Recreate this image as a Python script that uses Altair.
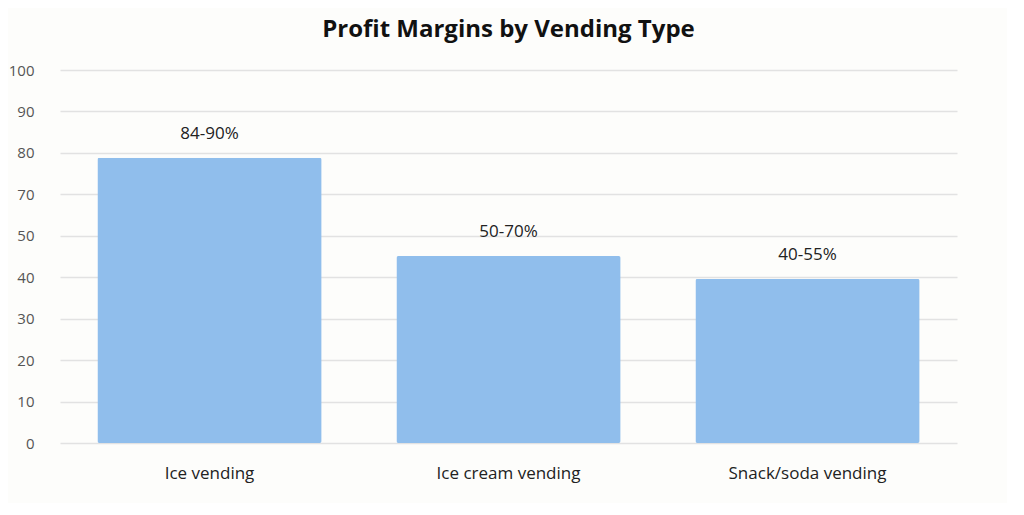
import altair as alt
import pandas as pd

categories = ["Ice vending", "Ice cream vending", "Snack/soda vending"]
values = [78.8, 45.1, 39.6]
labels = ["84-90%", "50-70%", "40-55%"]
tick_values = [0, 10, 20, 30, 40, 50, 70, 80, 90, 100]

df = pd.DataFrame({"category": categories, "value": values, "label": labels})

W = 897
H = 373
u = H / 9.0

x = alt.X("category:N", sort=categories, title=None,
          scale=alt.Scale(paddingInner=0.25, paddingOuter=0.125),
          axis=alt.Axis(labelAngle=0, labelFont="Open Sans", labelFontSize=17,
                        labelColor="#222222", labelPadding=22, ticks=False,
                        domain=False, grid=False))
y_scale = alt.Scale(domain=[0, 50, 70, 100], range=[H, H - 5 * u, H - 6 * u, 0],
                    nice=False, zero=False)

bars = alt.Chart(df).mark_bar(color="#90BEEC", cornerRadius=2).encode(
    x=x,
    y=alt.Y("value:Q", scale=y_scale, title=None,
            axis=alt.Axis(values=tick_values, labelFont="Open Sans", labelFontSize=15,
                          labelColor="#555555", labelPadding=26, ticks=False,
                          domain=False, grid=True, gridColor="#e2e2e2",
                          gridWidth=1.5)),
)

text = alt.Chart(df).mark_text(font="Open Sans", fontSize=17, color="#222222",
                               dy=-24, baseline="middle").encode(
    x=alt.X("category:N", sort=categories),
    y=alt.Y("value:Q", scale=y_scale),
    text="label:N",
)

chart = (bars + text).properties(
    width=W, height=H,
    title=alt.TitleParams("Profit Margins by Vending Type", font="Open Sans",
                          fontSize=24, fontWeight="bold", color="#111111",
                          anchor="middle", offset=21),
    autosize=alt.AutoSizeParams(type="none"),
    padding={"left": 52, "top": 62, "right": 50, "bottom": 60},
    background="#fdfdfb",
).configure_view(stroke=None)

chart.save("out.html", embed_options={"renderer": "svg", "actions": False})
